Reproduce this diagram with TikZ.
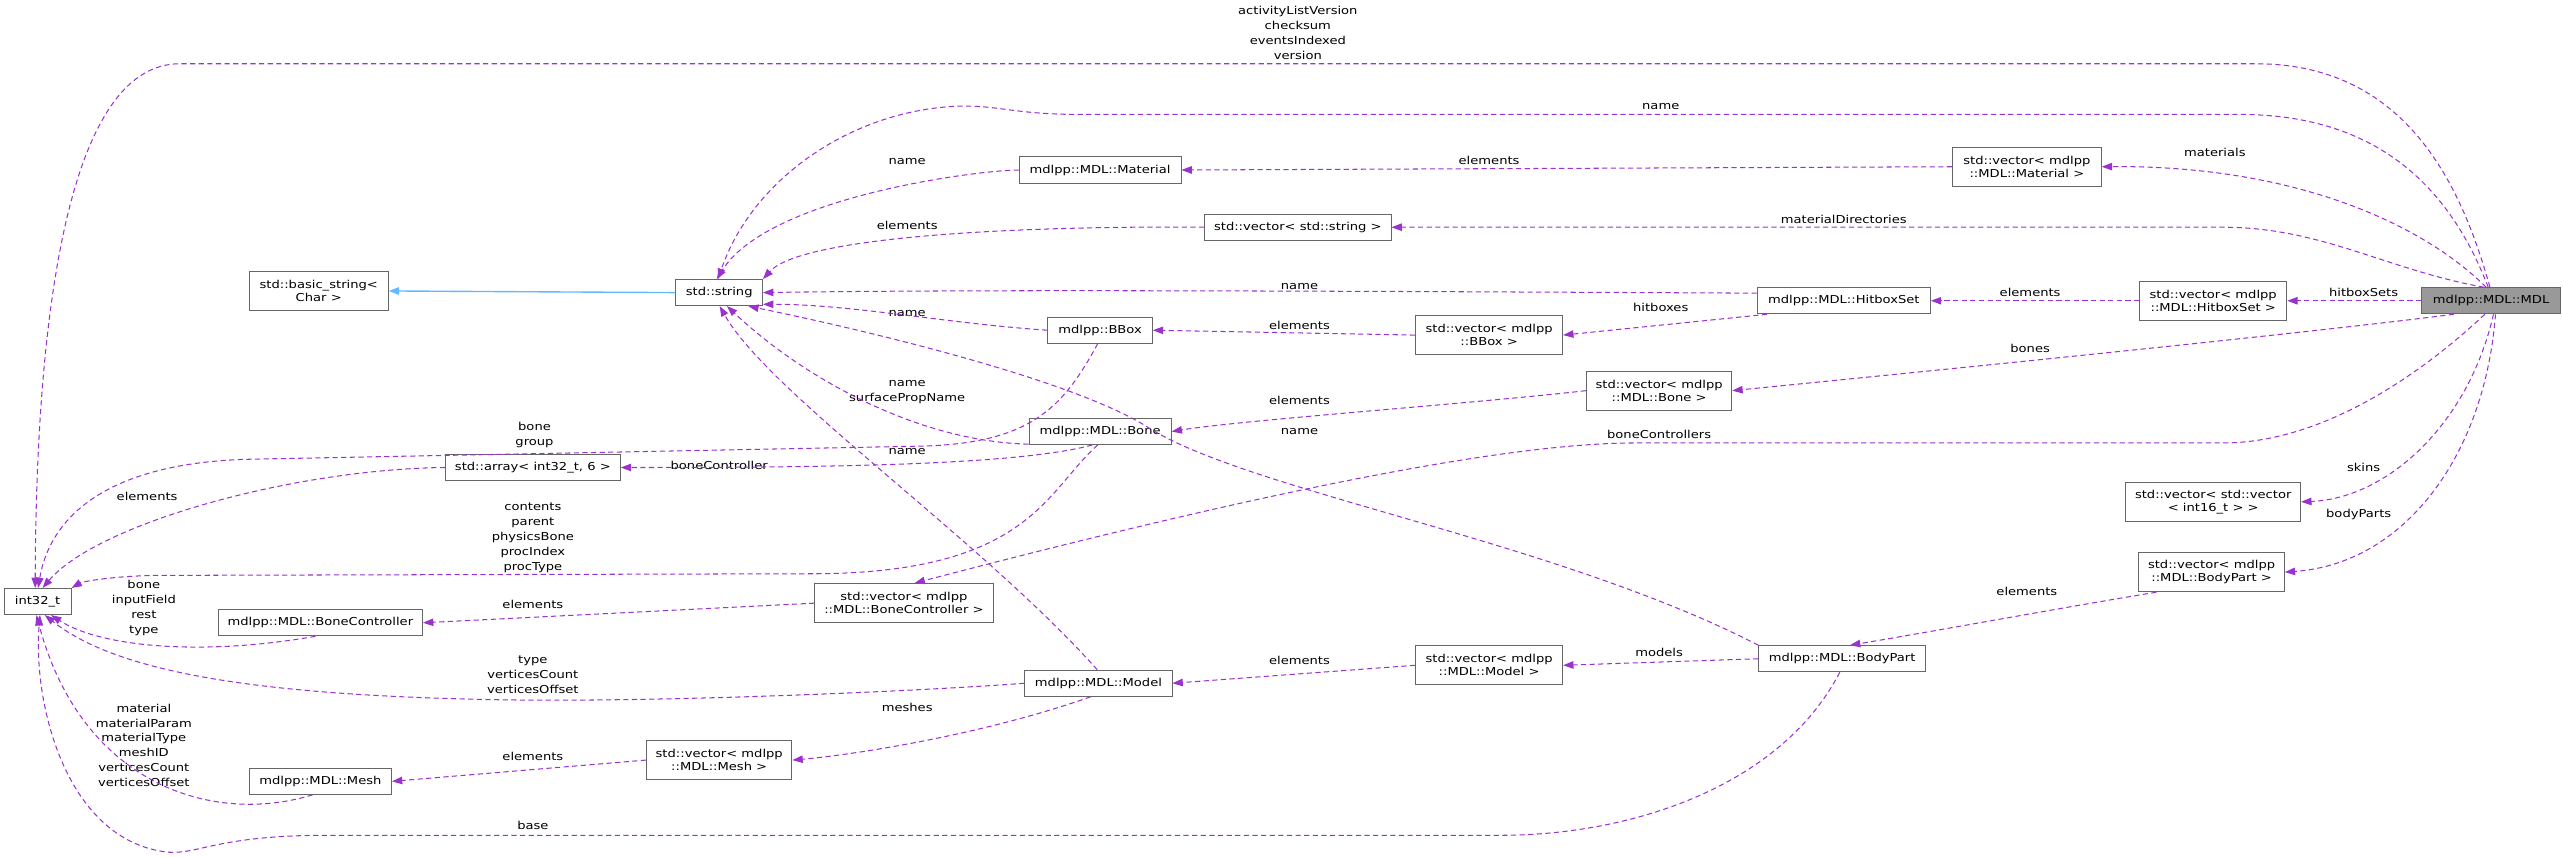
\documentclass[tikz,border=0pt]{standalone}
\usepackage{fontspec}
\setmainfont[FakeStretch=1.2]{DejaVu Sans}
\usetikzlibrary{arrows.meta}
\definecolor{edgec}{HTML}{9A32CD}
\definecolor{inhc}{HTML}{63B8FF}
\definecolor{boxc}{HTML}{666666}
\definecolor{fillc}{HTML}{999999}
\tikzset{
  box/.style={draw=boxc, line width=0.8pt, fill=white, align=center, inner sep=1pt,
    font=\fontsize{9.5}{11.5}\selectfont},
  lab/.style={align=center, inner sep=0pt, font=\fontsize{9.5}{13}\selectfont},
  rel/.style={draw=edgec, line width=0.9pt, dash pattern=on 4.5pt off 3pt,
    -{Triangle[length=9pt,width=6.5pt]}},
  inh/.style={draw=inhc, line width=1.2pt, -{Triangle[length=9pt,width=6.5pt]}},
}
\newcommand\bx[5]{\node[box, minimum width=#3*0.05cm, minimum height=#4*0.05cm] (#1) at (#2) {#5};}
\begin{document}
\begin{tikzpicture}[x=0.05cm,y=-0.05cm]
\useasboundingbox (0,0) rectangle (1568,524);
% nodes
\node[box, fill=fillc, minimum width=85*0.05cm, minimum height=16*0.05cm] (mdl) at (1524,184) {mdlpp::MDL::MDL};
\bx{vhs}{1354,184}{90}{24}{std::vector< mdlpp\\::MDL::HitboxSet >}
\bx{hs}{1128,184}{106}{16}{mdlpp::MDL::HitboxSet}
\bx{vmat}{1240,102}{91}{24}{std::vector< mdlpp\\::MDL::Material >}
\bx{mat}{673,104}{99}{16}{mdlpp::MDL::Material}
\bx{vstr}{794,139}{114}{16}{std::vector< std::string >}
\bx{str}{440,179}{53}{16}{std::string}
\bx{bstr}{195,178}{85}{24}{std::basic\_string<\\Char >}
\bx{bbox}{673,202}{64}{16}{mdlpp::BBox}
\bx{vbbox}{911,205}{90}{24}{std::vector< mdlpp\\::BBox >}
\bx{vbone}{1015,239}{89}{24}{std::vector< mdlpp\\::MDL::Bone >}
\bx{bone}{673,264}{87}{16}{mdlpp::MDL::Bone}
\bx{arr}{326,286}{107}{16}{std::array< int32\_t, 6 >}
\bx{int}{23,368}{41}{16}{int32\_t}
\bx{vbc}{553,369}{109}{24}{std::vector< mdlpp\\::MDL::BoneController >}
\bx{bc}{196,381}{125}{16}{mdlpp::MDL::BoneController}
\bx{skins}{1354,307}{107}{24}{std::vector< std::vector\\< int16\_t > >}
\bx{vbp}{1353,350}{89}{24}{std::vector< mdlpp\\::MDL::BodyPart >}
\bx{bp}{1127,403}{102}{16}{mdlpp::MDL::BodyPart}
\bx{vmod}{911,407}{90}{24}{std::vector< mdlpp\\::MDL::Model >}
\bx{mod}{672,418}{90}{16}{mdlpp::MDL::Model}
\bx{vmesh}{440,465}{89}{24}{std::vector< mdlpp\\::MDL::Mesh >}
\bx{mesh}{196,478}{87}{16}{mdlpp::MDL::Mesh}
% labels
\node[lab] (l1) at (794,20) {activityListVersion\\checksum\\eventsIndexed\\version};
\node[lab] (l2) at (1016,65) {name};
\node[lab] (l3) at (1355,93) {materials};
\node[lab] (l4) at (911,98) {elements};
\node[lab] (l5) at (555,99) {name};
\node[lab] (l6) at (1128,134) {materialDirectories};
\node[lab] (l7) at (555,138) {elements};
\node[lab] (l8) at (1446,179) {hitboxSets};
\node[lab] (l9) at (1242,179) {elements};
\node[lab] (l10) at (795,175) {name};
\node[lab] (l11) at (1016,188) {hitboxes};
\node[lab] (l12) at (795,199) {elements};
\node[lab] (l13) at (555,192) {name};
\node[lab] (l14) at (1242,213) {bones};
\node[lab] (l15) at (795,245) {elements};
\node[lab] (l16) at (555,240) {name\\surfacePropName};
\node[lab] (l17) at (795,264) {name};
\node[lab] (l18) at (1015,266) {boneControllers};
\node[lab] (l19) at (327,266) {bone\\group};
\node[lab] (l20) at (440,285) {boneController};
\node[lab] (l21) at (555,276) {name};
\node[lab] (l22) at (90,304) {elements};
\node[lab] (l23) at (1446,286) {skins};
\node[lab] (l24) at (326,329) {contents\\parent\\physicsBone\\procIndex\\procType};
\node[lab] (l25) at (1443,315) {bodyParts};
\node[lab] (l26) at (1240,362) {elements};
\node[lab] (l27) at (326,370) {elements};
\node[lab] (l28) at (88,372) {bone\\inputField\\rest\\type};
\node[lab] (l29) at (1015,399) {models};
\node[lab] (l30) at (795,404) {elements};
\node[lab] (l31) at (326,413) {type\\verticesCount\\verticesOffset};
\node[lab] (l32) at (555,433) {meshes};
\node[lab] (l33) at (326,463) {elements};
\node[lab] (l34) at (88,456) {material\\materialParam\\materialType\\meshID\\verticesCount\\verticesOffset};
\node[lab] (l35) at (326,505) {base};
% edges
\draw[inh] (str.west) -- (bstr.east);
\draw[rel] (mdl.95) .. controls (1505,110) and (1470,39) .. (1380,39) -- (110,39) .. controls (40,39) and (22,200) .. (int.100);
\draw[rel] (mdl.102) .. controls (1495,105) and (1445,70) .. (1370,70) -- (660,70) .. controls (620,70) and (610,64) .. (585,65) .. controls (520,68) and (460,110) .. (str.95);
\draw[rel] (mdl.110) .. controls (1480,135) and (1400,101) .. (vmat.east);
\draw[rel] (vmat.west) -- (mat.east);
\draw[rel] (mdl.118) .. controls (1460,165) and (1420,139) .. (1360,139) -- (vstr.east);
\draw[rel] (vstr.west) .. controls (620,138) and (490,145) .. (str.north east);
\draw[rel] (mat.west) .. controls (600,104) and (470,120) .. (str.100);
\draw[rel] (mdl.west) -- (vhs.east);
\draw[rel] (vhs.west) -- (hs.east);
\draw[rel] (hs.175) .. controls (800,178) and (600,177) .. (str.east);
\draw[rel] (hs.190) -- (vbbox.east);
\draw[rel] (vbbox.west) -- (bbox.east);
\draw[rel] (bbox.west) .. controls (580,198) and (520,186) .. (str.-15);
\draw[rel] (mdl.200) .. controls (1400,205) and (1200,225) .. (vbone.east);
\draw[rel] (vbone.west) .. controls (900,247) and (760,257) .. (bone.east);
\draw[rel] (bone.190) .. controls (560,270) and (490,230) .. (str.-60);
\draw[rel] (bone.-120) .. controls (620,285) and (500,286) .. (arr.east);
\draw[rel] (arr.west) .. controls (180,287) and (60,320) .. (int.70);
\draw[rel] (bbox.-100) .. controls (650,250) and (630,272) .. (560,273) -- (150,281) .. controls (60,284) and (30,320) .. (int.88);
\draw[rel] (bone.-100) .. controls (640,300) and (630,350) .. (500,351) -- (100,352) .. controls (70,352) and (50,356) .. (int.north east);
\draw[rel] (mdl.-115) .. controls (1480,230) and (1420,271) .. (1360,271) -- (1000,271) .. controls (900,271) and (700,320) .. (vbc.62);
\draw[rel] (vbc.west) -- (bc.east);
\draw[rel] (bc.-110) .. controls (120,402) and (60,395) .. (int.-45);
\draw[rel] (mdl.-80) .. controls (1510,260) and (1460,305) .. (skins.east);
\draw[rel] (mdl.-72) .. controls (1520,280) and (1470,345) .. (vbp.east);
\draw[rel] (vbp.200) .. controls (1260,372) and (1190,385) .. (bp.60);
\draw[rel] (bp.west) -- (vmod.east);
\draw[rel] (vmod.west) -- (mod.east);
\draw[rel] (mod.west) .. controls (560,423) and (400,430) .. (300,428) .. controls (150,425) and (70,410) .. (int.-62);
\draw[rel] (mod.95) .. controls (600,330) and (470,240) .. (str.-88);
\draw[rel] (bp.north west) .. controls (950,330) and (760,300) .. (700,260) .. controls (650,230) and (520,200) .. (str.-25);
\draw[rel] (mod.-120) .. controls (600,450) and (520,462) .. (vmesh.east);
\draw[rel] (vmesh.west) -- (mesh.east);
\draw[rel] (mesh.-120) .. controls (130,505) and (50,480) .. (int.-95);
\draw[rel] (bp.-100) .. controls (1090,480) and (1000,511) .. (918,511) -- (200,511) .. controls (130,511) and (120,524) .. (100,521) .. controls (40,512) and (20,430) .. (int.-80);
\end{tikzpicture}
\end{document}
